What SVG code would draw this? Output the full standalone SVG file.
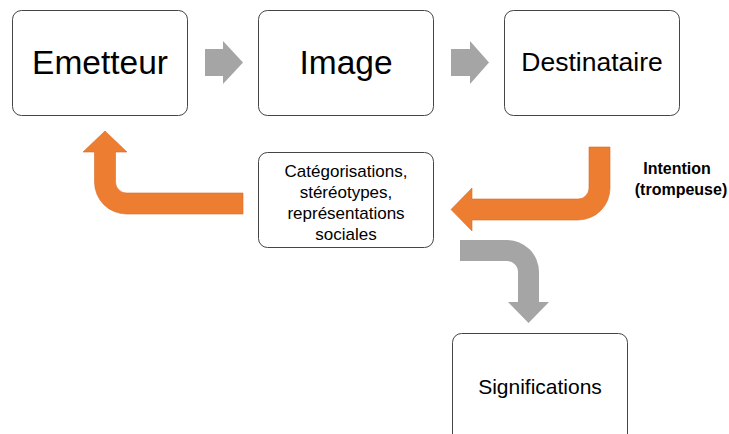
<svg xmlns="http://www.w3.org/2000/svg" width="729" height="434" viewBox="0 0 729 434">
  <style>
    .box { fill: #ffffff; stroke: #454545; stroke-width: 1; }
    .lbl { font-family: "Liberation Sans", Arial, sans-serif; fill: #000000; text-anchor: middle; }
    .big { font-size: 33.5px; }
    .mid { font-size: 26.5px; }
    .small { font-size: 17px; }
    .sig { font-size: 21px; }
    .note { font-family: "Liberation Sans", Arial, sans-serif; font-weight: bold; font-size: 16px; fill: #000000; text-anchor: middle; }
    .grey { fill: #a5a5a5; }
    .orange { fill: #ed7d31; stroke: #d96d26; stroke-width: 0.6; }
  </style>

  <rect width="729" height="434" fill="#ffffff"/>

  <!-- flow arrows -->
  <g id="connectors">
    <!-- Emetteur -> Image -->
    <path class="grey" d="M205,49 L223,49 L223,41 L243,62.5 L223,84 L223,76 L205,76 Z"/>
    <!-- Image -> Destinataire -->
    <path class="grey" d="M451,49 L470,49 L470,41 L489,62.5 L470,84 L470,76 L451,76 Z"/>
    <!-- Destinataire -> Catégorisations -->
    <path class="orange" d="M610,147 L610,188 A32,32 0 0 1 578,220 L472,220 L472,231 L451,209.5 L472,188 L472,199 L578,199 A11,11 0 0 0 589,188 L589,147 Z"/>
    <!-- Catégorisations -> Emetteur -->
    <path class="orange" d="M83,152 L105,131 L127,152 L115.5,152 L115.5,182 A11,11 0 0 0 126.5,193 L243,193 L243,214 L126.5,214 A32,32 0 0 1 94.5,182 L94.5,152 Z"/>
    <!-- Catégorisations -> Significations -->
    <path class="grey" d="M460,240 L507,240 A32,32 0 0 1 539,272 L539,302 L549,302 L528.5,323 L508,302 L518,302 L518,272 A11,11 0 0 0 507,261 L460,261 Z"/>
    <text class="note" x="677" y="174">Intention</text>
    <text class="note" x="681" y="195">(trompeuse)</text>
  </g>

  <g id="emetteur">
    <rect class="box" x="12.5" y="10.5" width="175" height="105" rx="9"/>
    <text class="lbl big" x="100" y="74">Emetteur</text>
  </g>

  <g id="image">
    <rect class="box" x="258.5" y="10.5" width="175" height="105" rx="9"/>
    <text class="lbl big" x="346" y="74">Image</text>
  </g>

  <g id="destinataire">
    <rect class="box" x="504.5" y="10.5" width="175" height="105" rx="9"/>
    <text class="lbl mid" x="592" y="71">Destinataire</text>
  </g>

  <g id="categorisations">
    <rect class="box" x="258.5" y="152.5" width="175" height="95" rx="9"/>
    <text class="lbl small" x="346" y="177">Catégorisations,</text>
    <text class="lbl small" x="346" y="198">stéréotypes,</text>
    <text class="lbl small" x="346" y="219">représentations</text>
    <text class="lbl small" x="346" y="240">sociales</text>
  </g>

  <g id="significations">
    <rect class="box" x="452.5" y="333.5" width="175" height="110" rx="9"/>
    <text class="lbl sig" x="540" y="394">Significations</text>
  </g>
</svg>
